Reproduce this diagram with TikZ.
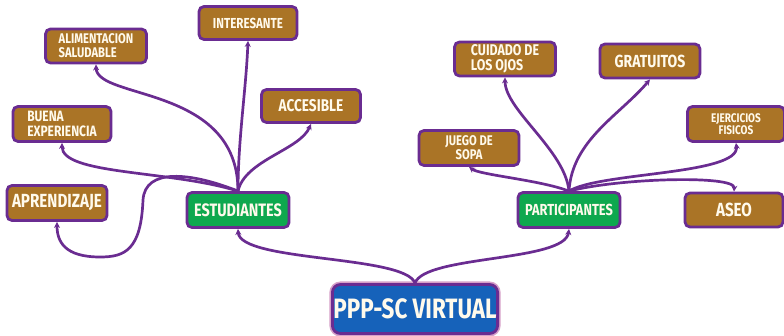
\documentclass[tikz,border=0pt]{standalone}
\usepackage{fontspec}
\setmainfont{Fira Sans}
\newfontfamily\hand[FakeStretch=0.8]{Fira Sans}
\usetikzlibrary{arrows.meta}
\definecolor{brownbox}{RGB}{170,116,38}
\definecolor{purp}{RGB}{106,44,145}
\definecolor{greenbox}{RGB}{14,168,78}
\definecolor{bluebox}{RGB}{22,98,186}
\definecolor{cream}{RGB}{255,250,236}
\definecolor{rim}{RGB}{214,160,200}
\begin{document}
\begin{tikzpicture}[x=1pt,y=-1pt,
  box/.style={draw=purp,line width=2.8pt,rounded corners=5pt,fill=brownbox,
    text=cream,font=\hand\bfseries,inner sep=1pt,align=center},
  gbox/.style={box,fill=greenbox},
  pbox/.style={box,fill=bluebox,rounded corners=8pt,
    preaction={draw=rim,line width=6pt}},
  conn/.style={draw=purp,line width=2.7pt,line cap=round,
    -{Stealth[length=6pt,width=6pt]}}]
\useasboundingbox (0,0) rectangle (784,336);
% nodes
\node[box,minimum width=98pt,minimum height=33pt,font=\hand\bfseries\fontsize{14.5}{14.5}\selectfont] (int) at (248,23) {INTERESANTE};
\node[box,minimum width=101pt,minimum height=34pt,align=left,font=\hand\bfseries\fontsize{14}{14}\selectfont] (ali) at (96,46) {ALIMENTACION\\SALUDABLE};
\node[box,minimum width=98pt,minimum height=35pt,align=left,font=\hand\bfseries\fontsize{15}{15}\selectfont] (bue) at (62,124) {BUENA\\EXPERIENCIA};
\node[box,minimum width=99pt,minimum height=33pt,font=\hand\bfseries\fontsize{17}{17}\selectfont] (acc) at (311,106) {ACCESIBLE};
\node[box,minimum width=100pt,minimum height=35pt,font=\hand\bfseries\fontsize{19}{19}\selectfont] (apr) at (57,203) {APRENDIZAJE};
\node[gbox,minimum width=102pt,minimum height=35pt,font=\hand\bfseries\fontsize{18}{18}\selectfont] (est) at (238,210) {ESTUDIANTES};
\node[pbox,minimum width=159pt,minimum height=49pt,font=\hand\bfseries\fontsize{28}{28}\selectfont] (ppp) at (415,309) {PPP-SC VIRTUAL};
\node[gbox,minimum width=102pt,minimum height=35pt,font=\hand\bfseries\fontsize{16}{16}\selectfont] (par) at (569,210) {PARTICIPANTES};
\node[box,minimum width=98pt,minimum height=34pt,font=\hand\bfseries\fontsize{19}{19}\selectfont] (ase) at (734,210) {ASEO};
\node[box,minimum width=100pt,minimum height=35pt,font=\hand\bfseries\fontsize{14}{14}\selectfont] (jue) at (469,148) {JUEGO DE\\SOPA};
\node[box,minimum width=101pt,minimum height=34pt,align=left,font=\hand\bfseries\fontsize{15.5}{15.5}\selectfont] (cui) at (505,59) {CUIDADO DE\\LOS OJOS};
\node[box,minimum width=100pt,minimum height=34pt,font=\hand\bfseries\fontsize{17.5}{17.5}\selectfont] (gra) at (650,61) {GRATUITOS};
\node[box,minimum width=97pt,minimum height=35pt,font=\hand\bfseries\fontsize{12.5}{12.5}\selectfont] (eje) at (736,124) {EJERCICIOS\\FISICOS};
% connectors from ESTUDIANTES
\draw[conn] (est.north) .. controls (238,140) and (246,90) .. (int.south);
\draw[conn] (est.north) .. controls (238,85) and (97,100) .. (ali.south);
\draw[conn] (est.north) .. controls (245,160) and (300,150) .. (acc.south);
\draw[conn] (est.north) .. controls (170,170) and (62,175) .. (bue.south);
\draw[conn] (est.north) .. controls (190,172) and (145,168) .. (143,200)
  .. controls (141,250) and (125,257) .. (100,257)
  .. controls (65,257) and (57,242) .. (apr.south);
% connectors from PPP
\draw[conn] (ppp.north) .. controls (405,255) and (240,262) .. (est.south);
\draw[conn] (ppp.north) .. controls (425,255) and (565,262) .. (par.south);
% connectors from PARTICIPANTES
\draw[conn] (par.north) .. controls (565,150) and (505,110) .. (cui.south);
\draw[conn] (par.north) .. controls (572,140) and (620,115) .. (gra.south);
\draw[conn] (par.north) .. controls (540,180) and (480,175) .. (jue.south);
\draw[conn] (par.north) .. controls (600,172) and (740,175) .. (eje.south);
\draw[conn] (par.north) .. controls (620,178) and (735,175) .. (ase.north);
\end{tikzpicture}
\end{document}
